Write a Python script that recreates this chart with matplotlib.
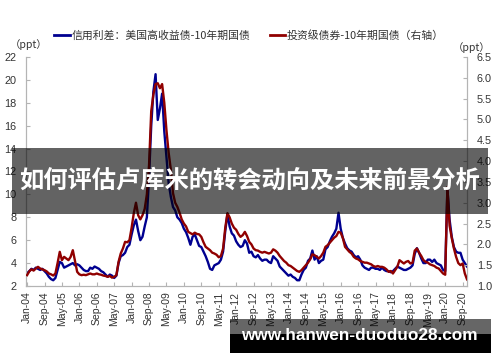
import numpy as np
import matplotlib
matplotlib.use("Agg")
import matplotlib.pyplot as plt
from matplotlib.patches import Rectangle

plt.rcParams['font.family'] = ['Liberation Sans', 'Noto Sans CJK SC', 'DejaVu Sans']

# monthly, Jan-04 .. Nov-20
hy_spread = [
    3.1, 3.3, 3.5, 3.4, 3.6, 3.5, 3.4, 3.5, 3.3, 3.1, 2.8, 2.6,      # 2004
    2.5, 2.7, 3.4, 4.1, 4.0, 3.6, 3.7, 3.8, 3.9, 4.0, 3.8, 3.9,      # 2005
    3.8, 3.6, 3.4, 3.3, 3.3, 3.6, 3.5, 3.7, 3.6, 3.5, 3.3, 3.2,      # 2006
    3.0, 2.8, 3.0, 2.9, 2.7, 2.9, 4.0, 4.6, 4.7, 4.9, 5.4, 5.6,      # 2007
    6.5, 7.3, 7.8, 6.8, 6.0, 6.3, 7.2, 8.0, 11.5, 16.0, 19.0, 20.5,  # 2008
    16.5, 17.5, 18.8, 15.5, 13.2, 11.0, 9.8, 8.9, 8.6, 8.0, 7.8, 7.5,  # 2009
    7.0, 6.7, 6.2, 5.6, 6.3, 6.5, 6.0, 5.5, 5.4, 5.0, 4.6, 4.1,      # 2010
    3.5, 3.4, 3.8, 3.9, 4.0, 4.3, 5.0, 6.8, 8.3, 7.2, 6.6, 6.4,      # 2011
    5.9, 5.6, 5.4, 5.5, 6.0, 5.7, 4.9, 5.0, 4.6, 4.5, 4.7, 4.4,      # 2012
    4.2, 4.3, 4.3, 4.1, 4.0, 4.6, 4.4, 4.2, 3.7, 3.5, 3.3, 3.1,      # 2013
    2.9, 3.0, 2.8, 2.7, 2.5, 2.5, 3.0, 3.4, 3.6, 4.2, 4.4, 5.1,      # 2014
    4.3, 4.6, 4.0, 4.2, 4.3, 5.2, 5.4, 5.9, 6.3, 6.6, 7.0, 8.4,      # 2015
    7.0, 6.2, 5.7, 5.3, 5.1, 5.0, 4.7, 4.5, 4.6, 4.3, 3.8, 3.6,      # 2016
    3.5, 3.4, 3.6, 3.6, 3.5, 3.5, 3.4, 3.6, 3.4, 3.3, 3.3, 3.2,      # 2017
    3.3, 3.5, 3.7, 3.6, 3.5, 3.4, 3.4, 3.5, 3.6, 3.8, 4.8, 5.3,      # 2018
    4.9, 4.4, 4.0, 4.0, 4.3, 4.3, 4.1, 4.3, 4.0, 3.9, 3.8, 3.4,      # 2019
    3.3, 10.5, 7.8, 6.3, 5.4, 5.0, 4.9, 4.9, 4.3, 4.0, 3.7,          # 2020
]
ig_spread = [
    1.26, 1.35, 1.40, 1.37, 1.42, 1.46, 1.42, 1.40, 1.38, 1.35, 1.30, 1.28,
    1.25, 1.30, 1.55, 1.82, 1.62, 1.70, 1.66, 1.62, 1.70, 1.86, 1.60, 1.34,
    1.28, 1.26, 1.27, 1.26, 1.28, 1.30, 1.28, 1.28, 1.30, 1.28, 1.27, 1.25,
    1.24, 1.22, 1.24, 1.20, 1.22, 1.26, 1.58, 1.78, 1.90, 2.06, 2.05, 2.10,
    2.40, 2.75, 3.00, 2.70, 2.60, 2.70, 2.85, 3.20, 3.90, 5.20, 5.60, 5.85,
    5.87, 5.75, 5.85, 5.40, 4.74, 4.20, 3.80, 3.23, 3.00, 2.90, 2.76, 2.60,
    2.50, 2.43, 2.30, 2.27, 2.24, 2.28, 2.25, 2.24, 2.18, 2.05, 1.94, 1.90,
    1.86, 1.80, 1.78, 1.75, 1.69, 1.72, 1.90, 2.40, 2.75, 2.65, 2.50, 2.40,
    2.35, 2.25, 2.18, 2.22, 2.30, 2.20, 2.06, 2.00, 1.90, 1.86, 1.85, 1.82,
    1.80, 1.82, 1.80, 1.78, 1.80, 1.88, 1.85, 1.80, 1.72, 1.66, 1.60, 1.56,
    1.50, 1.48, 1.44, 1.40, 1.36, 1.34, 1.38, 1.44, 1.50, 1.56, 1.64, 1.76,
    1.74, 1.70, 1.66, 1.72, 1.80, 1.94, 1.98, 2.04, 2.10, 2.16, 2.20, 2.30,
    2.28, 2.15, 1.94, 1.88, 1.82, 1.78, 1.70, 1.66, 1.64, 1.60, 1.58, 1.56,
    1.56, 1.54, 1.52, 1.48, 1.46, 1.48, 1.46, 1.46, 1.44, 1.40, 1.34, 1.36,
    1.30, 1.38, 1.46, 1.62, 1.58, 1.54, 1.58, 1.60, 1.54, 1.56, 1.85, 1.90,
    1.80, 1.72, 1.62, 1.58, 1.56, 1.52, 1.50, 1.48, 1.44, 1.42, 1.36, 1.30,
    1.27, 3.38, 2.45, 2.15, 1.90, 1.70, 1.55, 1.50, 1.54, 1.30, 1.16,
]
tick_labels = ['Jan-04', 'Sep-04', 'May-05', 'Jan-06', 'Sep-06', 'May-07', 'Jan-08',
               'Sep-08', 'May-09', 'Jan-10', 'Sep-10', 'May-11', 'Jan-12', 'Sep-12',
               'May-13', 'Jan-14', 'Sep-14', 'May-15', 'Jan-16', 'Sep-16', 'May-17',
               'Jan-18', 'Sep-18', 'May-19', 'Jan-20', 'Sep-20']
label_hy = '信用利差：美国高收益债-10年期国债'
label_ig = '投资级债券-10年期国债（右轴）'
title = '如何评估卢库米的转会动向及未来前景分析'
watermark = 'www.hanwen-duoduo28.com'

months = np.arange(len(hy_spread))
blue = '#000090'
red = '#900000'
grey = '#b4b4b4'
txt = '#333333'

fig = plt.figure(figsize=(5.0, 3.62), dpi=100)
ax = fig.add_axes([0.052, 0.21, 0.882, 0.6325])
ax2 = ax.twinx()

ax.plot(months, hy_spread, color=blue, lw=1.7, zorder=3)
ax2.plot(months, ig_spread, color=red, lw=1.7, zorder=3)

ax.set_xlim(-0.5, 202)
ax.set_ylim(2, 22)
ax.set_yticks(np.arange(2, 23, 2))
ax2.set_ylim(1.0, 6.5)
ax2.set_yticks(np.arange(1.0, 6.51, 0.5))
ax2.set_yticklabels([f'{v:.1f}' for v in np.arange(1.0, 6.51, 0.5)])
ax.set_xticks(np.arange(0, 8 * len(tick_labels), 8))
ax.set_xticklabels(tick_labels, rotation=90)

for a in (ax, ax2):
    for s in a.spines.values():
        s.set_color(grey)
        s.set_linewidth(0.8)
    a.spines['top'].set_visible(False)
    a.tick_params(direction='in', color=grey, length=3, width=0.8,
                  labelcolor=txt, labelsize=7.8)
ax.tick_params(axis='x', labelsize=7.5, pad=4)
ax.tick_params(axis='y', pad=7)
ax2.tick_params(axis='y', pad=7)

fig.text(0.02, 0.878, '（ppt）', fontsize=7.5, color=txt, family=['Noto Sans CJK SC'],
         va='center', ha='left')
fig.text(0.905, 0.868, '（ppt）', fontsize=7.5, color=txt, family=['Noto Sans CJK SC'],
         va='center', ha='left')

h1, = ax.plot([], [], color=blue, lw=2)
h2, = ax.plot([], [], color=red, lw=2)
leg = fig.legend([h1, h2], [label_hy, label_ig], loc='center',
                 bbox_to_anchor=(0.498, 0.903), ncol=2, frameon=False,
                 prop={'family': ['Noto Sans CJK SC'], 'size': 7.8},
                 handlelength=1.4, handletextpad=0.15, columnspacing=1.8)
for t in leg.get_texts():
    t.set_color(txt)

# title banner over the plot
fig.patches.append(Rectangle((0.024, 1 - 214 / 362), 0.952, 66 / 362,
                             transform=fig.transFigure, facecolor='black',
                             alpha=0.61, edgecolor='none', zorder=10))
fig.text(0.5, 1 - 181 / 362, title, fontsize=17.5, fontweight='bold', color='white',
         family=['Noto Sans CJK SC'], ha='center', va='center', zorder=11)

# watermark box
fig.patches.append(Rectangle((0.46, 1 - 334 / 362), 0.522, 15 / 362,
                             transform=fig.transFigure, facecolor='black',
                             alpha=0.6, edgecolor='none', zorder=10))
fig.patches.append(Rectangle((0.46, 1 - 353 / 362), 0.522, 19 / 362,
                             transform=fig.transFigure, facecolor='black',
                             edgecolor='none', zorder=10))
fig.text(0.718, 1 - 336 / 362, watermark, fontsize=12.4, fontweight='bold',
         color='white', ha='center', va='center', zorder=11)

fig.savefig('out.png', dpi=100)
